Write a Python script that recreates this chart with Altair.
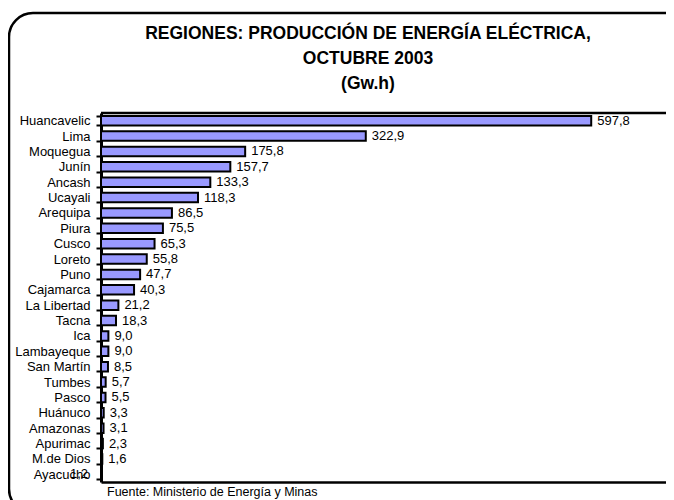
import altair as alt
import pandas as pd

regions = ["Huancavelic", "Lima", "Moquegua", "Junín", "Ancash", "Ucayali", "Arequipa",
           "Piura", "Cusco", "Loreto", "Puno", "Cajamarca", "La Libertad", "Tacna", "Ica",
           "Lambayeque", "San Martín", "Tumbes", "Pasco", "Huánuco", "Amazonas", "Apurimac",
           "M.de Dios", "Ayacucho"]
values = [597.8, 322.9, 175.8, 157.7, 133.3, 118.3, 86.5, 75.5, 65.3, 55.8, 47.7, 40.3,
          21.2, 18.3, 9.0, 9.0, 8.5, 5.7, 5.5, 3.3, 3.1, 2.3, 1.6, 1.2]
title_lines = ["REGIONES: PRODUCCIÓN DE ENERGÍA ELÉCTRICA,", "OCTUBRE 2003", "(Gw.h)"]
source_text = "Fuente: Ministerio de Energía y Minas"

df = pd.DataFrame({
    "region": regions,
    "value": values,
    "label": [f"{v:.1f}".replace(".", ",") for v in values],
})
one = pd.DataFrame({"k": [0]})

FONT = "Liberation Sans, Arial, sans-serif"
W, H = 565, 369

y_enc = alt.Y("region:N", sort=regions, title=None,
              scale=alt.Scale(paddingInner=0.38, paddingOuter=0.19),
              axis=alt.Axis(domainColor="black", domainWidth=3, tickColor="black",
                            tickWidth=2, tickSize=5, tickBand="extent", labelPadding=6,
                            labelFontSize=13, labelFont=FONT, labelColor="black"))
x_enc = alt.X("value:Q", title=None,
              scale=alt.Scale(domain=[0, 689], nice=False),
              axis=alt.Axis(labels=False, ticks=False, grid=False, domainColor="black",
                            domainWidth=2.5))

base = alt.Chart(df)
bars = base.mark_bar(color="#9999FF", stroke="black", strokeWidth=2).encode(x=x_enc, y=y_enc)
labels = base.transform_filter(alt.datum.region != "Ayacucho").mark_text(
    align="left", baseline="middle", dx=6, fontSize=13, font=FONT, color="black"
).encode(x="value:Q", y=alt.Y("region:N", sort=regions), text="label:N")
label_ay = base.transform_filter(alt.datum.region == "Ayacucho").mark_text(
    align="right", baseline="middle", dx=-14, fontSize=13, font=FONT, color="black"
).encode(x="value:Q", y=alt.Y("region:N", sort=regions), text="label:N")

top_rule = alt.Chart(one).mark_rule(color="black", strokeWidth=2.5).encode(
    x=alt.value(0), x2=alt.value(W), y=alt.value(0))
frame = alt.Chart(one).mark_rect(fill="transparent", stroke="black", strokeWidth=2.5,
                                 cornerRadius=24).encode(
    x=alt.value(-92), x2=alt.value(W + 40), y=alt.value(-100), y2=alt.value(H + 31))
title = alt.Chart(one).mark_text(text=title_lines, align="center", baseline="top",
                                 fontSize=17.5, fontWeight="bold", font=FONT,
                                 lineHeight=25, color="black").encode(
    x=alt.value(267), y=alt.value(-88))
source = alt.Chart(one).mark_text(text=source_text, align="left", baseline="top",
                                  fontSize=12.5, font=FONT, color="black").encode(
    x=alt.value(6), y=alt.value(H + 4))

chart = alt.layer(frame, bars, labels, label_ay, top_rule, title, source).properties(
    width=W, height=H,
    autosize=alt.AutoSizeParams(type="none"),
    padding={"left": 93, "top": 105, "right": 0, "bottom": 18},
).configure_view(stroke=None).configure(background="white")

chart.save("out.html", embed_options={"renderer": "svg", "actions": False})
